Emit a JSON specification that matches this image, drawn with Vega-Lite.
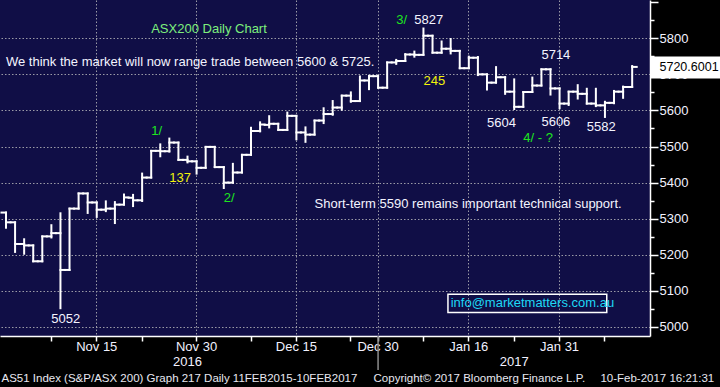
{
  "$schema": "https://vega.github.io/schema/vega-lite/v6.json",
  "width": 650,
  "height": 336,
  "autosize": {"type": "none"},
  "padding": {"left": 0, "top": 0, "right": 70, "bottom": 51},
  "background": "#000000",
  "config": {
    "view": {"fill": "#100e46", "stroke": null},
    "font": "Liberation Sans",
    "axis": {
      "labelFont": "Liberation Sans",
      "labelFontSize": 13,
      "labelColor": "#f2f2ff",
      "tickColor": "#ffffff",
      "domainColor": "#ffffff",
      "domainWidth": 1.5,
      "gridColor": "#9a9aa6",
      "gridDash": [1.5, 2],
      "gridWidth": 1
    }
  },
  "datasets": {
    "ohlc": [
      {"d": "2016-11-01", "o": 5317, "h": 5317, "l": 5275, "c": 5290},
      {"d": "2016-11-02", "o": 5290, "h": 5290, "l": 5208, "c": 5230},
      {"d": "2016-11-03", "o": 5230, "h": 5243, "l": 5203, "c": 5226},
      {"d": "2016-11-04", "o": 5226, "h": 5226, "l": 5182, "c": 5182},
      {"d": "2016-11-07", "o": 5182, "h": 5251, "l": 5182, "c": 5251},
      {"d": "2016-11-08", "o": 5251, "h": 5282, "l": 5248, "c": 5260},
      {"d": "2016-11-09", "o": 5260, "h": 5315, "l": 5052, "c": 5158},
      {"d": "2016-11-10", "o": 5158, "h": 5328, "l": 5158, "c": 5328},
      {"d": "2016-11-11", "o": 5328, "h": 5370, "l": 5328, "c": 5370},
      {"d": "2016-11-14", "o": 5370, "h": 5370, "l": 5316, "c": 5345},
      {"d": "2016-11-15", "o": 5345, "h": 5345, "l": 5305, "c": 5325},
      {"d": "2016-11-16", "o": 5325, "h": 5348, "l": 5321, "c": 5328},
      {"d": "2016-11-17", "o": 5328, "h": 5346, "l": 5288, "c": 5339},
      {"d": "2016-11-18", "o": 5339, "h": 5367, "l": 5339, "c": 5359},
      {"d": "2016-11-21", "o": 5358, "h": 5366, "l": 5335, "c": 5351},
      {"d": "2016-11-22", "o": 5351, "h": 5425, "l": 5349, "c": 5414},
      {"d": "2016-11-23", "o": 5414, "h": 5488, "l": 5414, "c": 5488},
      {"d": "2016-11-24", "o": 5488, "h": 5506, "l": 5473, "c": 5487},
      {"d": "2016-11-25", "o": 5487, "h": 5522, "l": 5486, "c": 5511},
      {"d": "2016-11-28", "o": 5511, "h": 5511, "l": 5463, "c": 5463},
      {"d": "2016-11-29", "o": 5463, "h": 5472, "l": 5456, "c": 5459},
      {"d": "2016-11-30", "o": 5459, "h": 5459, "l": 5425, "c": 5441},
      {"d": "2016-12-01", "o": 5441, "h": 5499, "l": 5441, "c": 5499},
      {"d": "2016-12-02", "o": 5499, "h": 5499, "l": 5443, "c": 5443},
      {"d": "2016-12-05", "o": 5443, "h": 5443, "l": 5385, "c": 5400},
      {"d": "2016-12-06", "o": 5400, "h": 5452, "l": 5400, "c": 5428},
      {"d": "2016-12-07", "o": 5428, "h": 5477, "l": 5428, "c": 5477},
      {"d": "2016-12-08", "o": 5477, "h": 5552, "l": 5477, "c": 5543},
      {"d": "2016-12-09", "o": 5543, "h": 5567, "l": 5542, "c": 5561},
      {"d": "2016-12-12", "o": 5560, "h": 5584, "l": 5553, "c": 5563},
      {"d": "2016-12-13", "o": 5563, "h": 5563, "l": 5546, "c": 5546},
      {"d": "2016-12-14", "o": 5546, "h": 5594, "l": 5546, "c": 5585},
      {"d": "2016-12-15", "o": 5585, "h": 5585, "l": 5520, "c": 5539},
      {"d": "2016-12-16", "o": 5539, "h": 5553, "l": 5513, "c": 5533},
      {"d": "2016-12-19", "o": 5533, "h": 5572, "l": 5533, "c": 5572},
      {"d": "2016-12-20", "o": 5572, "h": 5606, "l": 5565, "c": 5590},
      {"d": "2016-12-21", "o": 5590, "h": 5626, "l": 5588, "c": 5608},
      {"d": "2016-12-22", "o": 5608, "h": 5641, "l": 5602, "c": 5641},
      {"d": "2016-12-23", "o": 5641, "h": 5650, "l": 5624, "c": 5626},
      {"d": "2016-12-28", "o": 5626, "h": 5694, "l": 5626, "c": 5683},
      {"d": "2016-12-29", "o": 5683, "h": 5696, "l": 5659, "c": 5695},
      {"d": "2016-12-30", "o": 5695, "h": 5696, "l": 5663, "c": 5663},
      {"d": "2017-01-03", "o": 5663, "h": 5733, "l": 5663, "c": 5733},
      {"d": "2017-01-04", "o": 5733, "h": 5740, "l": 5729, "c": 5737},
      {"d": "2017-01-05", "o": 5737, "h": 5756, "l": 5737, "c": 5755},
      {"d": "2017-01-06", "o": 5755, "h": 5763, "l": 5749, "c": 5754},
      {"d": "2017-01-09", "o": 5754, "h": 5827, "l": 5754, "c": 5807},
      {"d": "2017-01-10", "o": 5807, "h": 5807, "l": 5760, "c": 5760},
      {"d": "2017-01-11", "o": 5760, "h": 5791, "l": 5760, "c": 5771},
      {"d": "2017-01-12", "o": 5771, "h": 5798, "l": 5758, "c": 5765},
      {"d": "2017-01-13", "o": 5765, "h": 5765, "l": 5717, "c": 5717},
      {"d": "2017-01-16", "o": 5717, "h": 5749, "l": 5717, "c": 5746},
      {"d": "2017-01-17", "o": 5746, "h": 5748, "l": 5698, "c": 5700},
      {"d": "2017-01-18", "o": 5700, "h": 5700, "l": 5658, "c": 5677},
      {"d": "2017-01-19", "o": 5677, "h": 5720, "l": 5677, "c": 5692},
      {"d": "2017-01-20", "o": 5692, "h": 5692, "l": 5646, "c": 5652},
      {"d": "2017-01-23", "o": 5652, "h": 5686, "l": 5604, "c": 5610},
      {"d": "2017-01-24", "o": 5610, "h": 5651, "l": 5610, "c": 5651},
      {"d": "2017-01-25", "o": 5651, "h": 5691, "l": 5651, "c": 5669},
      {"d": "2017-01-27", "o": 5669, "h": 5714, "l": 5669, "c": 5714},
      {"d": "2017-01-30", "o": 5714, "h": 5714, "l": 5644, "c": 5661},
      {"d": "2017-01-31", "o": 5661, "h": 5661, "l": 5606, "c": 5619},
      {"d": "2017-02-01", "o": 5619, "h": 5652, "l": 5615, "c": 5652},
      {"d": "2017-02-02", "o": 5652, "h": 5670, "l": 5633, "c": 5646},
      {"d": "2017-02-03", "o": 5646, "h": 5660, "l": 5619, "c": 5619},
      {"d": "2017-02-06", "o": 5619, "h": 5660, "l": 5612, "c": 5614},
      {"d": "2017-02-07", "o": 5614, "h": 5624, "l": 5582, "c": 5621},
      {"d": "2017-02-08", "o": 5621, "h": 5654, "l": 5620, "c": 5652},
      {"d": "2017-02-09", "o": 5652, "h": 5666, "l": 5635, "c": 5665},
      {"d": "2017-02-10", "o": 5665, "h": 5723, "l": 5665, "c": 5720.6}
    ],
    "notes": [
      {"d": "2016-11-23", "v": 5825, "t": "ASX200 Daily Chart", "kind": "title"},
      {"d": "2016-11-01", "v": 5733, "t": "We think the market will now range trade between 5600 & 5725.", "kind": "comment"},
      {"d": "2016-11-23", "v": 5542, "t": "1/", "kind": "wave"},
      {"d": "2016-11-25", "v": 5414, "t": "137", "kind": "count"},
      {"d": "2016-12-05", "v": 5356, "t": "2/", "kind": "wave"},
      {"d": "2017-01-04", "v": 5850, "t": "3/", "kind": "wave"},
      {"d": "2017-01-06", "v": 5850, "t": "5827", "kind": "price"},
      {"d": "2017-01-09", "v": 5681, "t": "245", "kind": "count"},
      {"d": "2017-01-27", "v": 5753, "t": "5714", "kind": "price"},
      {"d": "2017-01-18", "v": 5566, "t": "5604", "kind": "price"},
      {"d": "2017-01-27", "v": 5567, "t": "5606", "kind": "price"},
      {"d": "2017-02-03", "v": 5554, "t": "5582", "kind": "price"},
      {"d": "2017-01-24", "v": 5524, "t": "4/ - ?", "kind": "wave"},
      {"d": "2016-12-19", "v": 5340, "t": "Short-term 5590 remains important technical support.", "kind": "comment"},
      {"d": "2016-11-08", "v": 5022, "t": "5052", "kind": "price"},
      {"d": "2017-01-12", "v": 5066, "t": "info@marketmatters.com.au", "kind": "contact"}
    ],
    "footer": [
      {"d": "2016-11-01", "v": 4856, "t": "AS51 Index (S&P/ASX 200) Graph 217  Daily 11FEB2015-10FEB2017"},
      {"d": "2016-12-30", "v": 4856, "t": "Copyright© 2017 Bloomberg Finance L.P."},
      {"d": "2017-02-07", "v": 4856, "t": "10-Feb-2017 16:21:31"}
    ],
    "years": [
      {"d": "2016-11-29", "v": 4904, "t": "2016"},
      {"d": "2017-01-23", "v": 4904, "t": "2017"}
    ],
    "sep": [{"d": "2016-12-30", "top": 4975, "bottom": 4881}],
    "box": [{"d1": "2017-01-12", "d2": "2017-02-07", "top": 5091, "bottom": 5040}]
  },
  "resolve": {"axis": {"y": "independent"}},
  "layer": [
    {
      "data": {"name": "ohlc"},
      "mark": {"type": "rule", "color": "#ffffff", "strokeWidth": 2, "strokeCap": "square"},
      "encoding": {
        "x": {
          "field": "d", "type": "ordinal", "title": null,
          "scale": {"type": "band", "paddingInner": 0, "paddingOuter": 0.8127, "align": 0.099},
          "axis": {
            "values": ["2016-11-08", "2016-11-15", "2016-11-22", "2016-11-30", "2016-12-08", "2016-12-15", "2016-12-23", "2016-12-30", "2017-01-09", "2017-01-16", "2017-01-23", "2017-01-31", "2017-02-07"],
            "bandPosition": 0.5,
            "tickSize": 5,
            "tickWidth": 1.5,
            "labelPadding": -1,
            "labelAngle": 0,
            "labelOverlap": false,
            "grid": true,
            "gridOpacity": {"condition": {"test": "indexof(['2016-11-15','2016-11-30','2016-12-15','2016-12-30','2017-01-16','2017-01-31'], datum.value) >= 0", "value": 1}, "value": 0},
            "labelExpr": "datum.value == '2016-11-15' ? 'Nov 15' : datum.value == '2016-11-30' ? 'Nov 30' : datum.value == '2016-12-15' ? 'Dec 15' : datum.value == '2016-12-30' ? 'Dec 30' : datum.value == '2017-01-16' ? 'Jan 16' : datum.value == '2017-01-31' ? 'Jan 31' : ''"
          }
        },
        "y": {
          "field": "h", "type": "quantitative", "title": null,
          "scale": {"domain": [4975, 5906], "nice": false, "zero": false},
          "axis": {
            "orient": "right",
            "values": [5000, 5100, 5200, 5300, 5400, 5500, 5600, 5700, 5800, 5900],
            "format": "d",
            "tickSize": 8,
            "tickWidth": 1.5,
            "labelPadding": 1,
            "labelOverlap": false,
            "labelExpr": "datum.value < 5900 ? datum.label : ''",
            "grid": true,
            "gridOpacity": {"condition": {"test": "datum.value < 5900", "value": 1}, "value": 0}
          }
        },
        "y2": {"field": "l"}
      }
    },
    {
      "data": {"name": "ohlc"},
      "mark": {"type": "rule", "color": "#ffffff", "strokeWidth": 2, "strokeCap": "square"},
      "encoding": {
        "x": {"field": "d", "type": "ordinal", "title": null, "bandPosition": 0},
        "x2": {"field": "d", "bandPosition": 0.5},
        "y": {
          "field": "o", "type": "quantitative", "title": null,
          "axis": {
            "orient": "right",
            "values": [5050, 5150, 5250, 5350, 5450, 5550, 5650, 5750, 5850],
            "tickSize": 4, "tickWidth": 1.5, "labels": false, "domain": false, "grid": false
          }
        }
      }
    },
    {
      "data": {"name": "ohlc"},
      "mark": {"type": "rule", "color": "#ffffff", "strokeWidth": 2, "strokeCap": "square"},
      "encoding": {
        "x": {"field": "d", "type": "ordinal", "title": null, "bandPosition": 0.5},
        "x2": {"field": "d", "bandPosition": 1},
        "y": {"field": "c", "type": "quantitative", "title": null, "axis": null}
      }
    },
    {
      "data": {"name": "sep"},
      "mark": {"type": "rule", "color": "#8c8c8c", "strokeWidth": 1.5},
      "encoding": {
        "x": {"field": "d", "type": "ordinal", "title": null},
        "y": {"field": "top", "type": "quantitative", "title": null, "axis": null},
        "y2": {"field": "bottom"}
      }
    },
    {
      "data": {"name": "box"},
      "mark": {"type": "rect", "stroke": "#ffffff", "strokeWidth": 1.5, "fillOpacity": 0},
      "encoding": {
        "x": {"field": "d1", "type": "ordinal", "title": null, "bandPosition": 0.2},
        "x2": {"field": "d2", "bandPosition": 0.7},
        "y": {"field": "top", "type": "quantitative", "title": null, "axis": null},
        "y2": {"field": "bottom"}
      }
    },
    {
      "data": {"name": "notes"},
      "mark": {"type": "text", "align": "left", "baseline": "middle", "font": "Liberation Sans", "fontSize": 13},
      "encoding": {
        "x": {"field": "d", "type": "ordinal", "title": null},
        "y": {"field": "v", "type": "quantitative", "title": null, "axis": null},
        "text": {"field": "t"},
        "color": {
          "field": "kind", "type": "nominal", "legend": null,
          "scale": {"domain": ["title", "wave", "comment", "price", "count", "contact"], "range": ["#7def7d", "#1ee61e", "#f4f4ff", "#f4f4ff", "#f2f20a", "#1ed8f5"]}
        }
      }
    },
    {
      "data": {"name": "footer"},
      "mark": {"type": "text", "align": "left", "baseline": "middle", "font": "Liberation Sans", "fontSize": 11.5, "color": "#e8e8f0"},
      "encoding": {
        "x": {"field": "d", "type": "ordinal", "title": null, "bandPosition": 0},
        "y": {"field": "v", "type": "quantitative", "title": null, "axis": null},
        "text": {"field": "t"}
      }
    },
    {
      "data": {"name": "years"},
      "mark": {"type": "text", "align": "center", "baseline": "middle", "font": "Liberation Sans", "fontSize": 13, "color": "#f2f2ff"},
      "encoding": {
        "x": {"field": "d", "type": "ordinal", "title": null},
        "y": {
          "field": "v", "type": "quantitative", "title": null,
          "axis": {
            "orient": "right",
            "values": [5720.6001],
            "tickSize": 70,
            "tickWidth": 22,
            "tickColor": "#ffffff",
            "labelColor": "#000000",
            "labelFontSize": 12.5,
            "labelPadding": -61,
            "labelExpr": "'5720.6001'",
            "domain": false,
            "grid": false
          }
        },
        "text": {"field": "t"}
      }
    }
  ]
}
